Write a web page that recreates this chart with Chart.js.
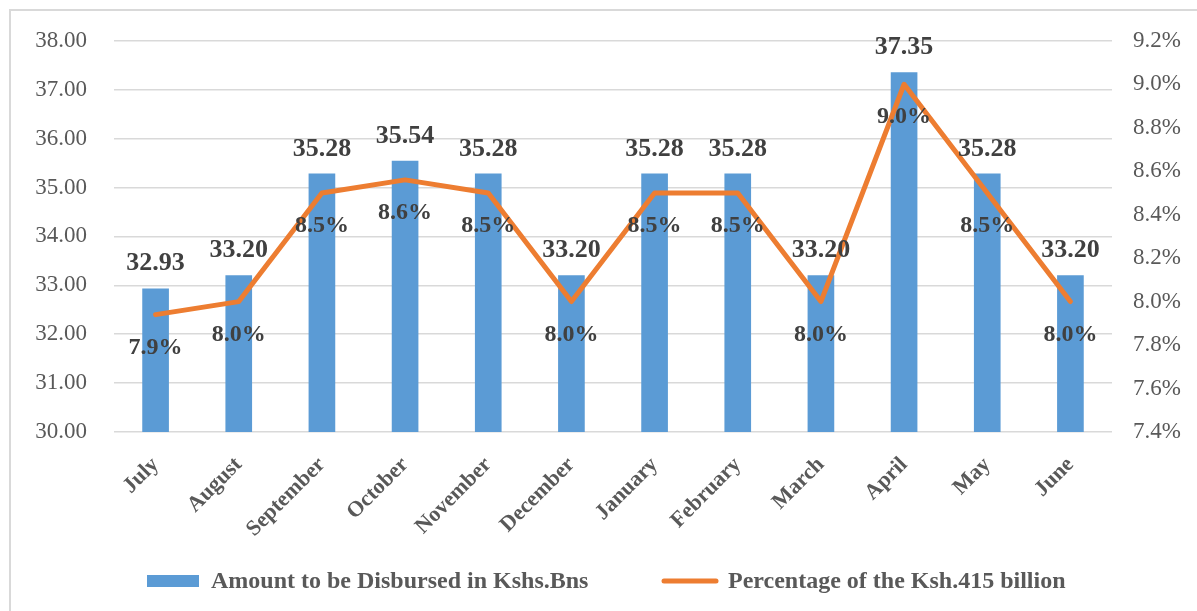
<!DOCTYPE html>
<html>
<head>
<meta charset="utf-8">
<script src="https://cdn.jsdelivr.net/npm/chart.js@4"></script>
<style>
  body { margin: 0; background: #fff; overflow: hidden; }
  #frame { position: absolute; left: 9px; top: 9px; width: 1200px; height: 620px; border: 2px solid #d9d9d9; }
  #wrap { position: absolute; left: 0; top: 0; width: 1197px; height: 611px; }
</style>
</head>
<body>
<div id="frame"></div>
<div id="wrap"><canvas id="chart"></canvas></div>
<script>
const months = ['July', 'August', 'September', 'October', 'November', 'December', 'January', 'February', 'March', 'April', 'May', 'June'];
const amounts = [32.93, 33.20, 35.28, 35.54, 35.28, 33.20, 35.28, 35.28, 33.20, 37.35, 35.28, 33.20];
const percents = [7.94, 8.0, 8.5, 8.56, 8.5, 8.0, 8.5, 8.5, 8.0, 9.0, 8.5, 8.0];
const seriesNames = ['Amount to be Disbursed in Kshs.Bns', 'Percentage of the Ksh.415 billion'];

const blue = '#5b9bd5';
const orange = '#ed7d31';
const serif = "'Liberation Serif', 'Times New Roman', serif";

// value labels: above bars, below line points
const labelPlugin = {
    id: 'labels',
    afterDatasetsDraw(chart) {
        const c = chart.ctx;
        c.save();
        c.textAlign = 'center';
        c.textBaseline = 'middle';
        c.fillStyle = '#404040';
        chart.getDatasetMeta(1).data.forEach((bar, i) => {
            c.font = "bold 26px " + serif;
            c.fillText(amounts[i].toFixed(2), bar.x, bar.y - 25);
        });
        chart.getDatasetMeta(0).data.forEach((pt, i) => {
            c.font = "bold 24px " + serif;
            c.fillText(percents[i].toFixed(1) + '%', pt.x, pt.y + 33);
        });
        c.restore();
    }
};

// legend at the bottom
const legendPlugin = {
    id: 'bottomLegend',
    afterDraw(chart) {
        const c = chart.ctx;
        c.save();
        c.font = "bold 24px " + serif;
        c.textBaseline = 'middle';
        c.fillStyle = blue;
        c.fillRect(147, 575, 52, 12);
        c.fillStyle = '#595959';
        c.fillText(seriesNames[0], 211, 582);
        c.strokeStyle = orange;
        c.lineWidth = 5;
        c.lineCap = 'round';
        c.beginPath();
        c.moveTo(664, 581);
        c.lineTo(716, 581);
        c.stroke();
        c.fillText(seriesNames[1], 728, 582);
        c.restore();
    }
};

const ctx = document.querySelector('#chart').getContext('2d');

const config = {
    type: 'bar',
    data: {
        labels: months,
        datasets: [
            {
                type: 'line',
                label: seriesNames[1],
                data: percents,
                yAxisID: 'y2',
                borderColor: orange,
                borderWidth: 5,
                borderCapStyle: 'round',
                borderJoinStyle: 'round',
                pointRadius: 0,
                fill: false,
                tension: 0,
                order: 0
            },
            {
                type: 'bar',
                label: seriesNames[0],
                data: amounts,
                yAxisID: 'y',
                backgroundColor: blue,
                barThickness: 26,
                order: 1
            }
        ]
    },
    options: {
        responsive: true,
        maintainAspectRatio: false,
        animation: false,
        layout: { padding: { top: 40, left: 0, right: 0, bottom: 0 } },
        plugins: {
            legend: { display: false },
            title: { display: false },
            tooltip: { enabled: false }
        },
        scales: {
            x: {
                grid: { display: false, drawTicks: false },
                border: { display: false },
                ticks: {
                    color: '#595959',
                    font: { family: serif, size: 22, weight: 'bold' },
                    maxRotation: 45,
                    minRotation: 45,
                    padding: 20
                },
                afterFit(scale) { scale.height = 179; }
            },
            y: {
                position: 'left',
                min: 30,
                max: 38,
                grid: { color: '#d9d9d9', lineWidth: 1.5, drawTicks: false },
                border: { display: false },
                ticks: {
                    stepSize: 1,
                    color: '#595959',
                    font: { family: serif, size: 23 },
                    padding: 27,
                    callback: v => v.toFixed(2)
                },
                afterFit(scale) { scale.width = 114; }
            },
            y2: {
                position: 'right',
                min: 7.4,
                max: 9.2,
                grid: { drawOnChartArea: false, drawTicks: false },
                border: { display: false },
                ticks: {
                    stepSize: 0.2,
                    color: '#595959',
                    font: { family: serif, size: 23 },
                    padding: 21,
                    callback: v => v.toFixed(1) + '%'
                },
                afterFit(scale) { scale.width = 85; }
            }
        }
    },
    plugins: [labelPlugin, legendPlugin]
};

const myChart = new Chart(ctx, config);
</script>
</body>
</html>
